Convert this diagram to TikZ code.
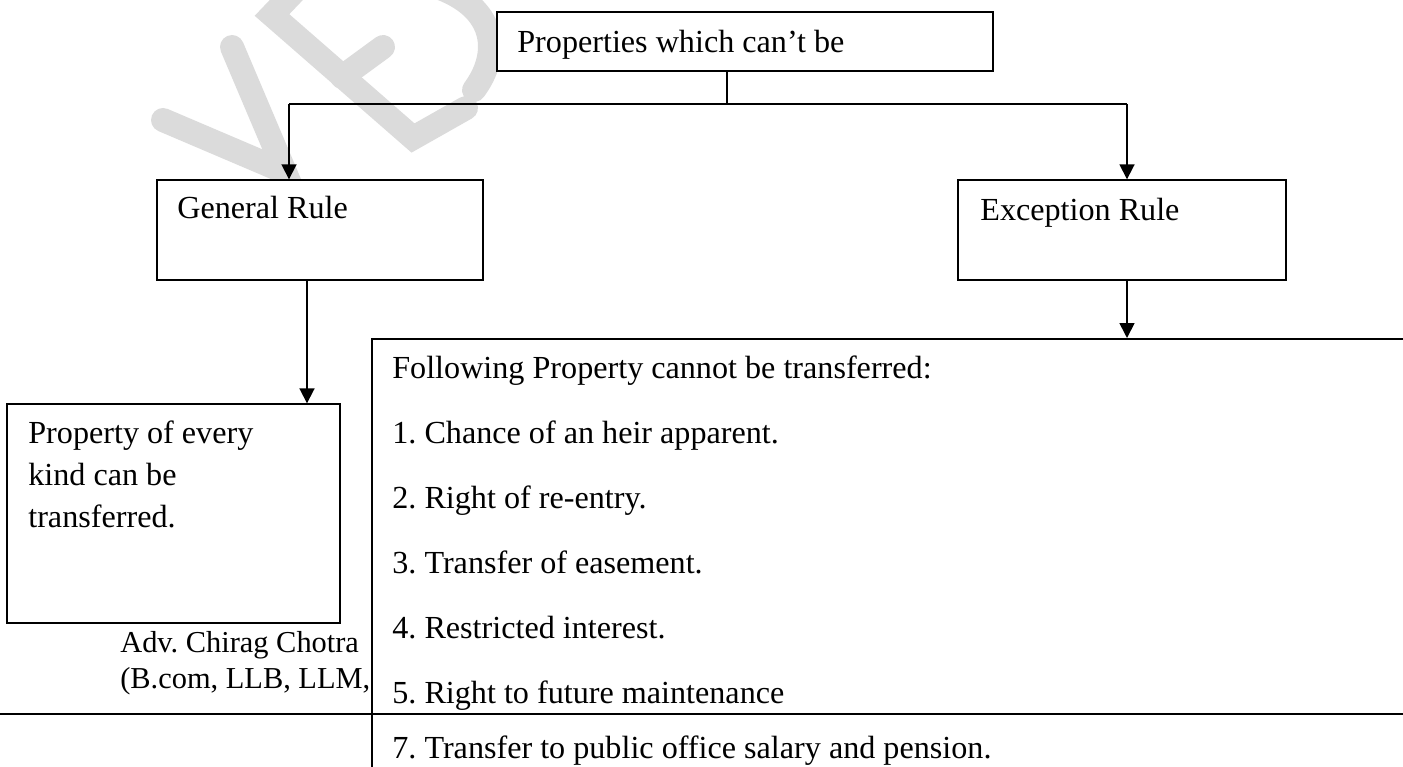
\documentclass[tikz,border=0pt]{standalone}
\usepackage{fontspec}
\setmainfont{Liberation Serif}
\usetikzlibrary{arrows.meta}
\frenchspacing

\begin{document}
\begin{tikzpicture}[x=0.02cm,y=-0.02cm,
  box/.style={draw,rectangle,line width=0.8pt,fill=white,inner sep=0pt},
  txt/.style={anchor=base west,inner sep=0pt,font=\fontsize{18.3}{23.8}\selectfont},
  foot/.style={txt,font=\fontsize{17.3}{22}\selectfont},
  arr/.style={line width=1pt,-{Triangle[width=8.5pt,length=8.5pt]}},
  wm/.style={line width=0.48cm,black!14,line cap=round,line join=miter}]
\useasboundingbox (0,0) rectangle (1403,767);

% watermark fragment
\draw[wm] (163,120) -- (285,172) -- (232,47);
\draw[wm] (313,-28) -- (272,15) -- (413,138) -- (466,108);
\draw[wm] (342,77) -- (383,47);
\draw[wm] (474,90) .. controls (500,55) and (498,10) .. (440,-12);
\draw[wm] (500,-12) -- (540,-12);

\node[box,minimum width=9.92cm,minimum height=1.18cm] (T) at (745,41.5) {};
\node[box,minimum width=6.52cm,minimum height=2cm] (GR) at (320,230) {};
\node[box,minimum width=6.56cm,minimum height=2cm] (ER) at (1122,230) {};
\node[box,minimum width=6.66cm,minimum height=4.38cm] (PR) at (173.5,513.5) {};

% footer text, partly under the list box
\node[foot] (A1) at (120,652) {Adv. Chirag Chotra};
\node[foot] (A2) at (120,688) {(B.com, LLB, LLM,};

\node[box,line width=1.3pt,minimum width=22.6cm,minimum height=9.3cm,anchor=north west] (L) at (371,338) {};
\draw[line width=1.3pt] (-5,714) -- (1410,714);

\node[txt] (TT) at (517,53) {Properties which can't be};
\node[txt] (GT) at (177,218) {General Rule};
\node[txt] (ET) at (980,220) {Exception Rule};

\foreach \t [count=\i from 0] in {Property of every,kind can be,transferred.} {
  \node[txt] (P\i) at (28,443+42*\i) {\t};
}

\foreach \t [count=\i from 0] in {{Following Property cannot be transferred:},{1. Chance of an heir apparent.},{2. Right of re-entry.},{3. Transfer of easement.},{4. Restricted interest.},{5. Right to future maintenance}} {
  \node[txt] (F\i) at (392,378+65*\i) {\t};
}
\node[txt] (F7) at (392,758) {7. Transfer to public office salary and pension.};

\coordinate (J) at (727,104);
\coordinate (JL) at (289,104);
\coordinate (JR) at (1127,104);

\draw[line width=1pt] (J |- T.south) -- (J);
\draw[line width=1pt] (JL) -- (JR);
\draw[arr] (JL) -- (JL |- GR.north);
\draw[arr] (JR) -- (JR |- ER.north);
\draw[arr] (307,0 |- GR.south) -- (307,0 |- PR.north);
\draw[arr] (JR |- ER.south) -- (JR |- L.north);
\end{tikzpicture}
\end{document}
